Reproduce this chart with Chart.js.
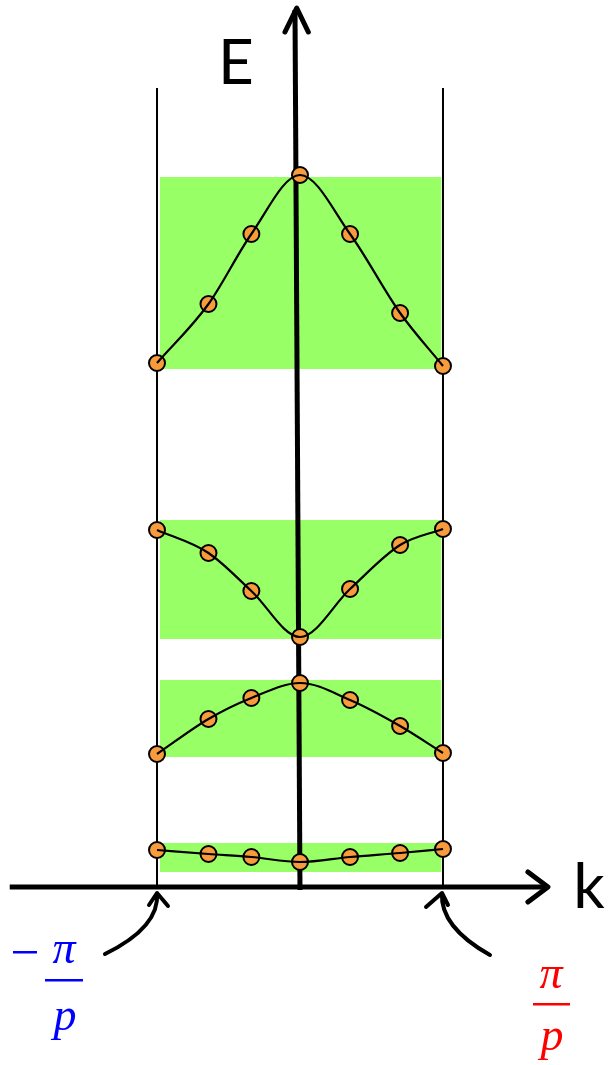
<!DOCTYPE html>
<html>
<head>
<meta charset="utf-8">
<script src="https://cdn.jsdelivr.net/npm/chart.js@4/dist/chart.umd.min.js"></script>
<style>
  html, body { margin: 0; padding: 0; background: #fff; }
  canvas { display: block; }
</style>
</head>
<body>
<canvas id="bandChart" width="608" height="1065"></canvas>
<script>
// wave vector, in units of pi/p
const kPoints = [-1, -0.64, -0.34, 0, 0.35, 0.7, 1];

// energies of the sampled states for each band (arbitrary units, k axis at 0)
const band1 = [0.37, 0.33, 0.30, 0.25, 0.30, 0.34, 0.38];
const band2 = [1.33, 1.68, 1.89, 2.04, 1.87, 1.61, 1.34];
const band3 = [3.57, 3.34, 2.96, 2.50, 2.98, 3.42, 3.58];
const band4 = [5.24, 5.83, 6.53, 7.12, 6.53, 5.74, 5.21];

// allowed energy ranges [bottom, top]
const bandRanges = [[0.15, 0.44], [1.30, 2.07], [2.48, 3.67], [5.18, 7.10]];
const zoneEdges = [-1, 1];

const bands = [band1, band2, band3, band4];
const green = 'rgb(153,255,102)';
const orange = '#F89B3C';

const datasets = [];

bands.forEach((band, i) => {
    const r = bandRanges[i];
    datasets.push({
        data: [{ x: -0.98, y: r[1] }, { x: 0.99, y: r[1] }],
        borderWidth: 0,
        pointRadius: 0,
        backgroundColor: green,
        fill: { value: r[0] },
        order: 10
    });
});

// axes and zone boundaries
datasets.push({
    data: [{ x: -2.03, y: 0 }, { x: 1.734, y: 0 }],
    borderColor: '#000', borderWidth: 5, pointRadius: 0, order: 6
});
datasets.push({
    data: [{ x: 1.594, y: 0.15 }, { x: 1.734, y: 0 }, { x: 1.594, y: -0.15 }],
    borderColor: '#000', borderWidth: 5, pointRadius: 0, order: 6,
    borderCapStyle: 'round', borderJoinStyle: 'round'
});
datasets.push({
    data: [{ x: 0, y: -0.03 }, { x: -0.035, y: 8.77 }],
    borderColor: '#000', borderWidth: 5, pointRadius: 0, order: 6
});
datasets.push({
    data: [{ x: -0.105, y: 8.55 }, { x: -0.023, y: 8.79 }, { x: 0.058, y: 8.55 }],
    borderColor: '#000', borderWidth: 5, pointRadius: 0, order: 6,
    borderCapStyle: 'round', borderJoinStyle: 'round'
});
zoneEdges.forEach(k => {
    datasets.push({
        data: [{ x: k, y: 0 }, { x: k, y: 7.99 }],
        borderColor: '#000', borderWidth: 2, pointRadius: 0, order: 6
    });
});

bands.forEach(band => {
    const pts = kPoints.map((k, j) => ({ x: k, y: band[j] }));
    datasets.push({
        data: pts,
        showLine: false,
        pointRadius: 8,
        pointBackgroundColor: orange,
        pointBorderColor: '#000',
        pointBorderWidth: 2,
        order: 3
    });
    datasets.push({
        data: pts,
        borderColor: '#000',
        borderWidth: 2.2,
        pointRadius: 0,
        cubicInterpolationMode: 'monotone',
        order: 2
    });
});

const labelsPlugin = {
    id: 'labels',
    afterDraw(chart) {
        const ctx = chart.ctx;
        const xs = chart.scales.x, ys = chart.scales.y;
        const xL = xs.getPixelForValue(-1), xR = xs.getPixelForValue(1);
        const y0 = ys.getPixelForValue(0);
        ctx.save();
        ctx.fillStyle = '#000';
        ctx.textAlign = 'center';
        ctx.textBaseline = 'alphabetic';
        ctx.font = '62px Lato';
        ctx.fillText('E', 236, 84);
        ctx.fillText('k', 589, 908);

        // curved pointers to the zone edges
        ctx.strokeStyle = '#000';
        ctx.lineWidth = 4;
        ctx.lineCap = 'round';
        ctx.lineJoin = 'round';
        ctx.beginPath();
        ctx.moveTo(xL - 52, y0 + 67);
        ctx.quadraticCurveTo(xL + 3, y0 + 40, xL, y0 + 6);
        ctx.moveTo(xL - 8, y0 + 18);
        ctx.lineTo(xL, y0 + 6);
        ctx.lineTo(xL + 11, y0 + 19);
        ctx.moveTo(xR + 47, y0 + 68);
        ctx.quadraticCurveTo(xR - 3, y0 + 40, xR - 1, y0 + 6);
        ctx.moveTo(xR - 17, y0 + 20);
        ctx.lineTo(xR - 1, y0 + 6);
        ctx.lineTo(xR + 5, y0 + 18);
        ctx.stroke();

        // -pi/p and pi/p
        ctx.font = 'italic 46px "Liberation Serif"';
        ctx.fillStyle = '#0000FF';
        ctx.fillText('\u03C0', 64, 963);
        ctx.fillText('p', 65, 1030);
        ctx.fillRect(45, 979, 38, 2.5);
        ctx.fillRect(13, 951, 24, 2.5);
        ctx.fillStyle = '#FF0000';
        ctx.fillText('\u03C0', 551, 988);
        ctx.fillText('p', 552, 1050);
        ctx.fillRect(533, 1003, 37, 2.5);
        ctx.restore();
    }
};

new Chart(document.getElementById('bandChart').getContext('2d'), {
    type: 'line',
    data: { datasets: datasets },
    options: {
        responsive: false,
        devicePixelRatio: 1,
        animation: false,
        events: [],
        layout: { padding: 0, autoPadding: false },
        plugins: {
            legend: { display: false },
            tooltip: { enabled: false }
        },
        scales: {
            x: { type: 'linear', display: false, min: -2.098, max: 2.154 },
            y: { type: 'linear', display: false, min: -1.78, max: 8.87 }
        }
    },
    plugins: [labelsPlugin]
});
</script>
</body>
</html>
